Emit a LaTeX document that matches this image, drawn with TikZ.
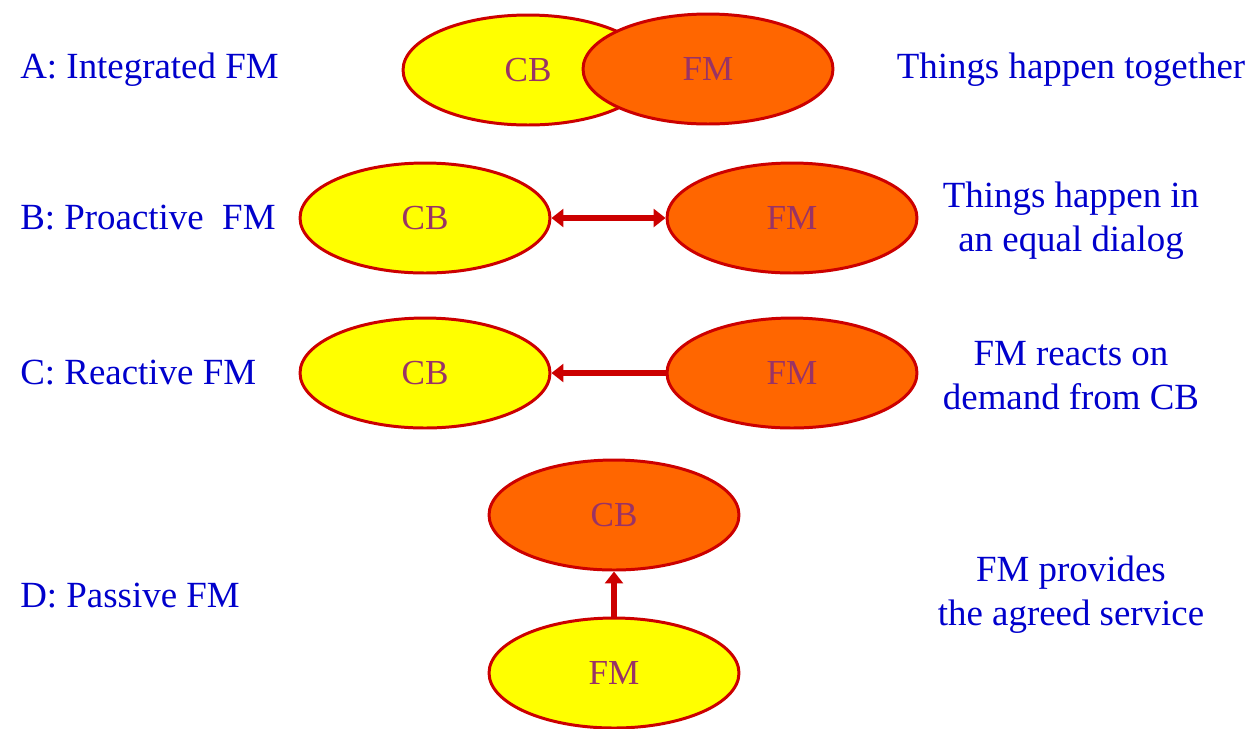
\documentclass[tikz,border=0pt]{standalone}
\usepackage{fontspec}
\setmainfont{Liberation Serif}
\newfontfamily\fmserif{Liberation Serif}
\usetikzlibrary{shapes.geometric,arrows.meta}
\definecolor{fmblue}{HTML}{0000CC}
\definecolor{fmred}{HTML}{CC0000}
\definecolor{fmyellow}{HTML}{FFFF00}
\definecolor{fmorange}{HTML}{FF6600}
\definecolor{fmtext}{HTML}{993366}
\begin{document}
\begin{tikzpicture}[x=0.02cm, y=-0.02cm,
  lbl/.style={font=\fmserif\fontsize{21}{25}\selectfont, text=fmblue, anchor=west, inner sep=0pt},
  note/.style={font=\fmserif\fontsize{21}{25}\selectfont, text=fmblue, align=center, inner sep=0pt},
  blob/.style={ellipse, draw=fmred, line width=1.7pt, minimum width=5cm, minimum height=2.2cm,
    inner sep=0pt, text=fmtext, font=\fmserif\fontsize{20}{24}\selectfont},
  yel/.style={blob, fill=fmyellow},
  org/.style={blob, fill=fmorange},
  tip/.tip={Triangle[length=0.24cm,width=0.36cm]},
  link/.style={draw=fmred, line width=3.6pt, -tip}]
  \useasboundingbox (0,0) rectangle (1253,728);
  % A: integrated
  \node[lbl] (labA) at (20,70) {A: Integrated FM};
  \node[yel] (cbA) at (528,70) {CB};
  \node[org] (fmA) at (708,69) {FM};
  \node[note] (txtA) at (1071,70) {Things happen together};
  % B: proactive
  \node[lbl] (labB) at (20,218) {B: Proactive\ \ FM};
  \node[yel] (cbB) at (425,218) {CB};
  \node[org] (fmB) at (792,218) {FM};
  \draw[link, tip-tip] (cbB) -- (fmB);
  \node[note] (txtB) at (1071,221) {Things happen in\\an equal dialog};
  % C: reactive
  \node[lbl] (labC) at (20,373) {C: Reactive FM};
  \node[yel] (cbC) at (425,373) {CB};
  \node[org] (fmC) at (792,373) {FM};
  \draw[link] (fmC) -- (cbC);
  \node[note] (txtC) at (1071,376) {FM reacts on\\demand from CB};
  % D: passive
  \node[lbl] (labD) at (20,596) {D: Passive FM};
  \node[org] (cbD) at (614,515) {CB};
  \node[yel] (fmD) at (614,673) {FM};
  \draw[link] (fmD) -- (cbD);
  \node[note] (txtD) at (1071,595) {FM provides\\the agreed service};
\end{tikzpicture}
\end{document}
